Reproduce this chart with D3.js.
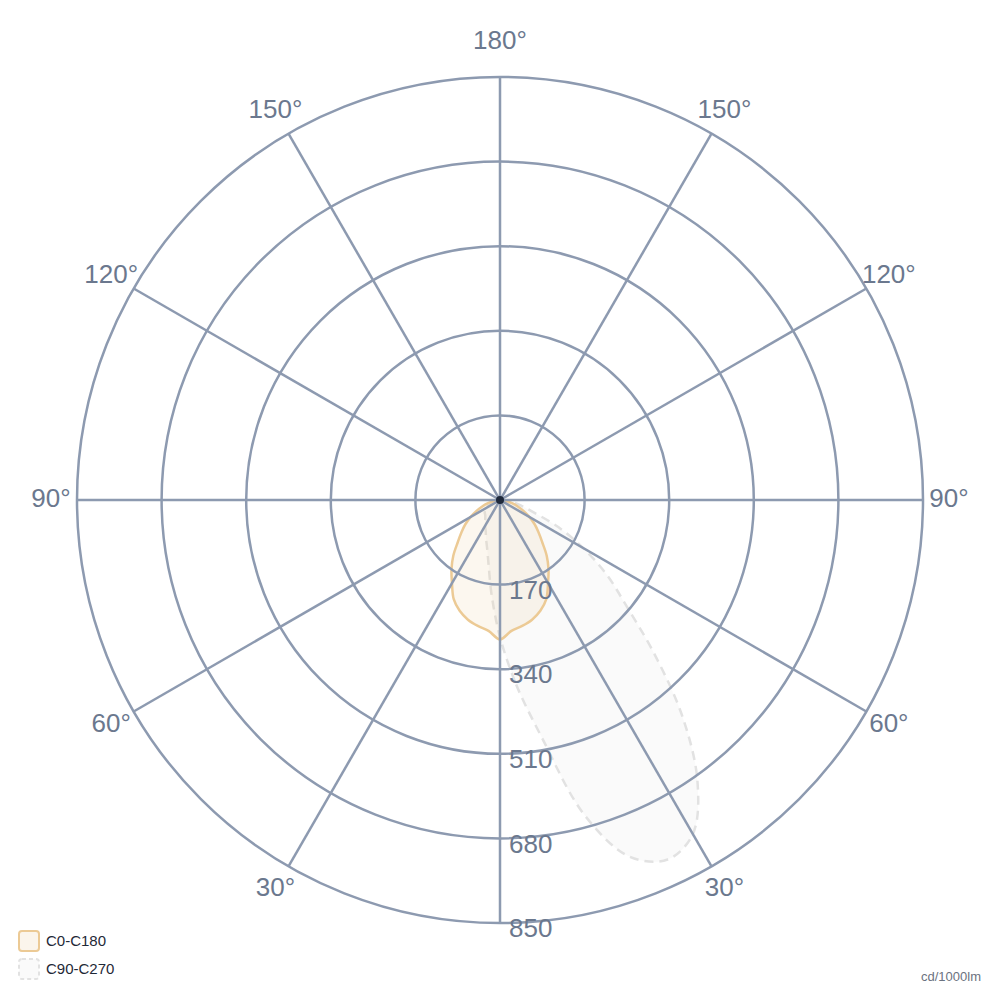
<!DOCTYPE html>
<html>
<head>
<meta charset="utf-8">
<script src="https://cdn.jsdelivr.net/npm/d3@7"></script>
<style>
  body { margin: 0; background: #fff; }
  svg { font-family: "Liberation Sans", Arial, sans-serif; }
</style>
</head>
<body>
<svg id="chart" width="1000" height="1000"></svg>
<script>
'use strict';
// gamma angles, 0 = straight down
var gammas = [0, 5, 10, 15, 20, 25, 30, 35, 40, 45, 50, 55, 60, 65, 70, 75, 80, 85, 90];
var c0 = [280, 264, 257, 249, 237, 220, 193, 170, 146, 120, 101, 85, 68, 52, 38, 25, 14, 6, 0];
var c180 = [280, 264, 257, 249, 237, 220, 193, 170, 146, 120, 101, 85, 68, 52, 38, 25, 14, 6, 0];
var c90 = [275, 372, 485, 655, 763, 797, 775, 692, 572, 440, 332, 262, 193, 130, 71, 45, 28, 14, 0];
var c270 = [275, 192, 132, 100, 82, 68, 60, 52, 46, 42, 40, 37, 34, 30, 25, 18, 11, 5, 0];
var ringTicks = [170, 340, 510, 680, 850];
var spokeAngles = [0, 30, 60, 90, 120, 150, 180, 210, 240, 270, 300, 330];
var angleLabels = ['30°', '60°', '90°', '120°', '150°', '180°'];
var seriesNames = ['C0-C180', 'C90-C270'];

var svg = d3.select('#chart');
var cx = 500, cy = 500, R = 423;
var gridColor = '#8d9ab0';
var textColor = '#6b788e';

var r = d3.scaleLinear().domain([0, 850]).range([0, R]);

// builds closed lobe: right half goes down the list, left half back up
function lobe(right, left) {
  var pts = [];
  gammas.forEach(function(g, i) {
    pts.push([Math.PI - g * Math.PI / 180, r(right[i])]);
  });
  for (var i = gammas.length - 2; i > 0; i--) {
    pts.push([Math.PI + gammas[i] * Math.PI / 180, r(left[i])]);
  }
  return pts;
}

var line = d3.lineRadial().curve(d3.curveCatmullRomClosed.alpha(0.5));

var plot = svg.append('g').attr('transform', 'translate(' + cx + ',' + cy + ')');

plot.append('path')
  .attr('d', line(lobe(c90, c270)))
  .attr('fill', 'rgba(240,240,240,0.3)')
  .attr('stroke', '#e2e2e2')
  .attr('stroke-width', 2.5)
  .attr('stroke-dasharray', '9,6');

plot.append('path')
  .attr('d', line(lobe(c0, c180)))
  .attr('fill', 'rgba(236,200,145,0.15)')
  .attr('stroke', '#ecca95')
  .attr('stroke-width', 2.5);

// grid
plot.selectAll('circle.ring').data(ringTicks).enter().append('circle')
  .attr('class', 'ring')
  .attr('r', function(d) { return r(d); })
  .attr('fill', 'none')
  .attr('stroke', gridColor)
  .attr('stroke-width', 2.5);

plot.selectAll('line.spoke').data(spokeAngles).enter().append('line')
  .attr('class', 'spoke')
  .attr('x1', 0).attr('y1', 0)
  .attr('x2', function(d) { return R * Math.sin(d * Math.PI / 180); })
  .attr('y2', function(d) { return R * Math.cos(d * Math.PI / 180); })
  .attr('stroke', gridColor)
  .attr('stroke-width', 2.5);

plot.append('circle').attr('r', 4).attr('fill', '#1e293b');

// angle labels, both sides
var labR = 449;
var labData = [];
angleLabels.forEach(function(t, i) {
  var a = (i + 1) * 30;
  labData.push({ t: t, a: a, s: 1 });
  if (a !== 180) labData.push({ t: t, a: a, s: -1 });
});
plot.selectAll('text.ang').data(labData).enter().append('text')
  .attr('class', 'ang')
  .attr('x', function(d) { return d.s * labR * Math.sin(d.a * Math.PI / 180); })
  .attr('y', function(d) {
    var y = labR * Math.cos(d.a * Math.PI / 180) - 2;
    return d.a === 180 ? y - 9 : y;
  })
  .attr('dy', '0.35em')
  .attr('text-anchor', 'middle')
  .attr('font-size', 26)
  .attr('fill', textColor)
  .text(function(d) { return d.t; });

plot.selectAll('text.rtick').data(ringTicks).enter().append('text')
  .attr('class', 'rtick')
  .attr('x', 9)
  .attr('y', function(d) { return r(d) + 5; })
  .attr('dy', '0.35em')
  .attr('font-size', 26)
  .attr('fill', textColor)
  .text(function(d) { return d; });

// legend
var legend = svg.append('g').attr('transform', 'translate(18,930)');
var legStyles = [
  { stroke: '#ecca95', fill: '#fbf5ec', dash: null },
  { stroke: '#e2e2e2', fill: '#fafafa', dash: '4,3' }
];
seriesNames.forEach(function(name, i) {
  var g = legend.append('g').attr('transform', 'translate(0,' + i * 28 + ')');
  g.append('rect')
    .attr('x', 1).attr('y', 1).attr('width', 20).attr('height', 20).attr('rx', 3)
    .attr('fill', legStyles[i].fill)
    .attr('stroke', legStyles[i].stroke)
    .attr('stroke-width', 2)
    .attr('stroke-dasharray', legStyles[i].dash);
  g.append('text')
    .attr('x', 28).attr('y', 11).attr('dy', '0.35em')
    .attr('font-size', 15)
    .attr('fill', '#1f2937')
    .text(name);
});

svg.append('text')
  .attr('x', 981).attr('y', 976).attr('dy', '0.35em')
  .attr('text-anchor', 'end')
  .attr('font-size', 13)
  .attr('fill', '#6b7280')
  .text('cd/1000lm');
</script>
</body>
</html>
